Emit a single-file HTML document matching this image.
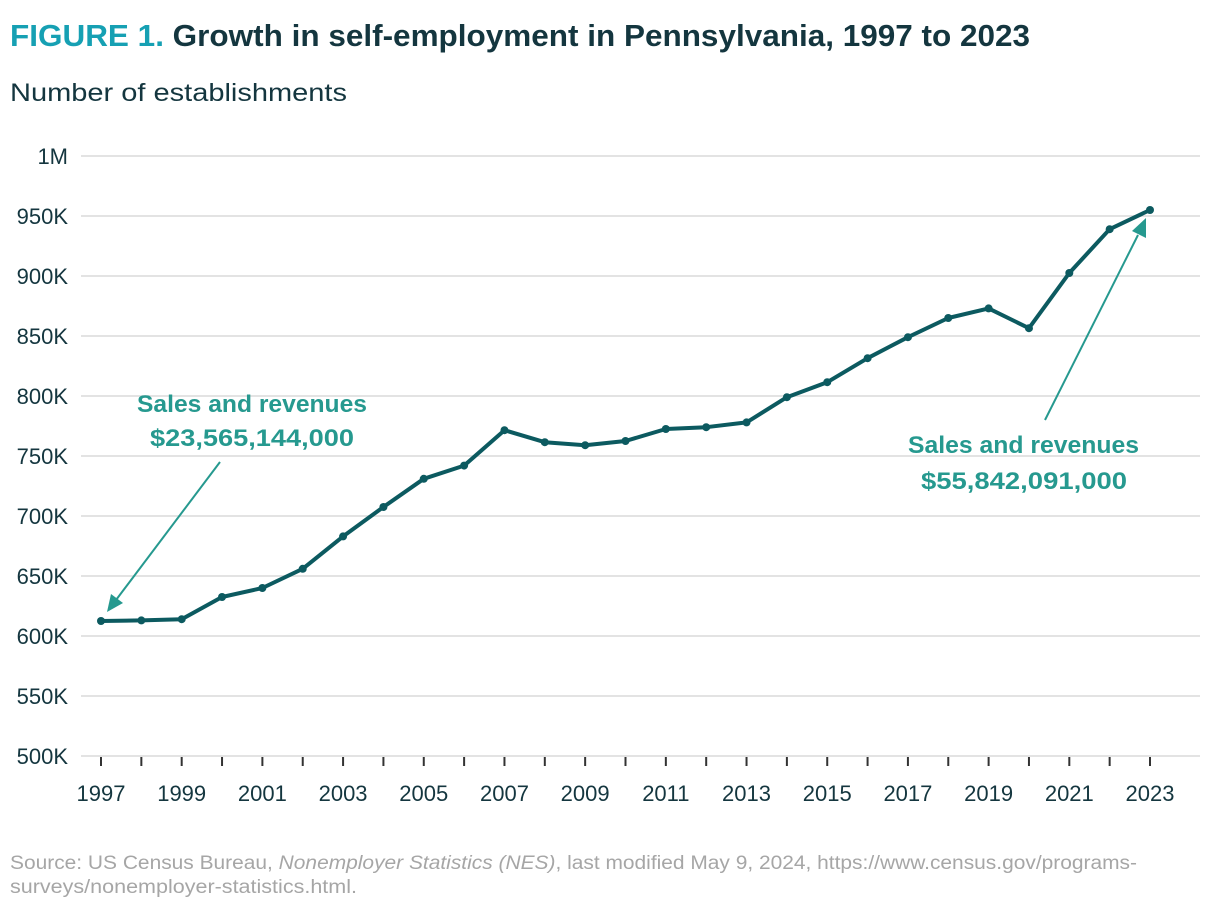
<!DOCTYPE html>
<html><head><meta charset="utf-8"><style>
body{margin:0;background:#fff;}
svg{display:block;font-family:"Liberation Sans",sans-serif;}
</style></head><body>
<svg width="1220" height="914" viewBox="0 0 1220 914">
<text x="10" y="46" font-size="31" font-weight="bold" textLength="1020" lengthAdjust="spacingAndGlyphs"><tspan fill="#16a0b3">FIGURE 1.</tspan><tspan fill="#14363f"> Growth in self-employment in Pennsylvania, 1997 to 2023</tspan></text>
<text x="10" y="101" font-size="25" fill="#14363f" textLength="337" lengthAdjust="spacingAndGlyphs">Number of establishments</text>
<g id="grid"></g><g id="yticks"></g><g id="xticks"></g>
<path id="line" fill="none" stroke="#0c5a60" stroke-width="4" stroke-linejoin="round"/>
<g id="pts"></g>
<g fill="#26998f" font-size="24" font-weight="bold">
<text x="137" y="412" textLength="230" lengthAdjust="spacingAndGlyphs">Sales and revenues</text>
<text x="150" y="446" textLength="204" lengthAdjust="spacingAndGlyphs">$23,565,144,000</text>
<text x="908" y="453" textLength="231" lengthAdjust="spacingAndGlyphs">Sales and revenues</text>
<text x="921" y="489" textLength="206" lengthAdjust="spacingAndGlyphs">$55,842,091,000</text>
</g>
<g stroke="#26998f" stroke-width="2" fill="#26998f">
<line x1="220" y1="462" x2="116" y2="600"/>
<polygon points="107,612 111,594 123,603" stroke="none"/>
<line x1="1045" y1="420" x2="1138" y2="235"/>
<polygon points="1146,218 1146,238 1132,231" stroke="none"/>
</g>
<g fill="#a6a6a6" font-size="19">
<text x="10" y="869" textLength="1127" lengthAdjust="spacingAndGlyphs">Source: US Census Bureau, <tspan font-style="italic">Nonemployer Statistics (NES)</tspan>, last modified May 9, 2024, https://www.census.gov/programs-</text>
<text x="10" y="893" textLength="347" lengthAdjust="spacingAndGlyphs">surveys/nonemployer-statistics.html.</text>
</g>
</svg>
<script>
const years=[1997,1998,1999,2000,2001,2002,2003,2004,2005,2006,2007,2008,2009,2010,2011,2012,2013,2014,2015,2016,2017,2018,2019,2020,2021,2022,2023];
const establishments=[612.5,613,614,632.5,640,656,683,707.5,731,742,771.5,761.5,759,762.5,772.5,774,778,799,811.5,831.5,849,865,873,856.5,902.5,939,955];
const yTicks=[500,550,600,650,700,750,800,850,900,950,1000];
const yTickLabels=['500K','550K','600K','650K','700K','750K','800K','850K','900K','950K','1M'];
const NS='http://www.w3.org/2000/svg';
const x=y=>101+(y-1997)*(1049/26);
const yS=v=>756-(v-500)*1.2;
function mk(t,a,p){const e=document.createElementNS(NS,t);for(const k in a)e.setAttribute(k,a[k]);document.getElementById(p).appendChild(e);return e;}
yTicks.forEach((v,i)=>{
 const l=mk('line',{x1:81,x2:1200,y1:yS(v),y2:yS(v),stroke:'#e3e3e3','stroke-width':2},'grid');
 
 
 const t=mk('text',{x:68,y:yS(v)+8,'text-anchor':'end','font-size':22,fill:'#14363f'},'yticks');
 t.textContent=yTickLabels[i];
 
 
});
years.forEach(yr=>{
 const l=mk('line',{x1:x(yr),x2:x(yr),y1:757,y2:766,stroke:'#333','stroke-width':2},'xticks');
 
 
 if((yr-1997)%2===0){
  const t=mk('text',{x:x(yr),y:801,'text-anchor':'middle','font-size':22,fill:'#14363f'},'xticks');
  t.textContent=yr;
  
  
 }
});
document.getElementById('line').setAttribute('d',years.map((yr,i)=>(i?'L':'M')+x(yr)+','+yS(establishments[i])).join(''));
years.forEach((yr,i)=>{
 const c=mk('circle',{cx:x(yr),cy:yS(establishments[i]),r:4,fill:'#0c5a60'},'pts');
 
 
});
</script>
</body></html>
